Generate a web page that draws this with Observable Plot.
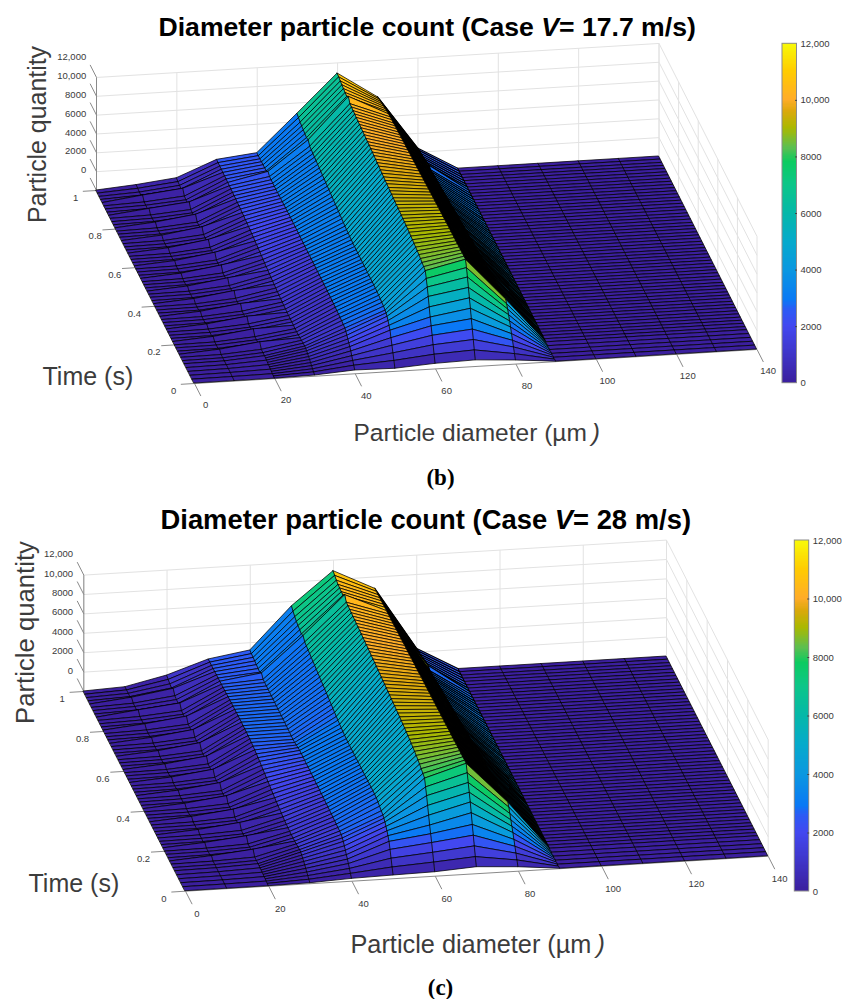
<!DOCTYPE html>
<html>
<head>
<meta charset="utf-8">
<script src="https://cdn.jsdelivr.net/npm/d3@7"></script>
<script src="https://cdn.jsdelivr.net/npm/@observablehq/plot@0.6"></script>
<style>
html,body{margin:0;padding:0;background:#fff}
svg{display:block}
</style>
</head>
<body>
<div id="chart"></div>
<script>
// ---------- axes of the surface ----------
const diameters = [0,10,20,30,40,50,60,70,80,90,100,110,120,130,140];
const times = [0,.01,.02,.03,.04,.05,.06,.07,.08,.09,.1,
 .116,.133,.149,.165,.182,.198,.215,.231,.247,.264,.28,.296,.313,.329,.345,.362,.378,.395,.411,.427,.444,.46,.476,.493,
 .509,.525,.542,.558,.575,.591,.607,.624,.64,.656,.673,.689,.705,.722,.738,.755,.771,.787,.804,.82,.836,.853,.869,.885,
 .902,.918,.935,.951,.967,.984,1];
const diameterTicks = [0,20,40,60,80,100,120,140];
const timeTicks = [0,.2,.4,.6,.8,1];
const quantityTicks = [0,2000,4000,6000,8000,10000,12000];
const quantityLabels = ["0","2000","4000","6000","8000","10,000","12,000"];

// ---------- particle counts per diameter bin, one value per time row ----------
const flatColumn = [0,0,0,0,0,0,0,0,0,0,0,0,0,0,0,0,0,0,0,0,0,0,0,0,0,0,0,0,0,0,0,0,0,0,0,0,0,0,0,0,0,0,0,0,0,0,0,0,0,0,0,0,0,0,0,0,0,0,0,0,0,0,0,0,0,0];

// Case V = 17.7 m/s
const b10 = [0,10,20,30,40,40,50,50,50,40,40,
 40,40,280,40,40,40,280,40,50,50,280,50,50,50,290,50,50,50,290,50,60,60,290,60,60,60,300,60,60,60,300,60,60,60,310,70,70,70,320,80,80,80,360,90,100,100,480,120,130,150,540,200,200,250,320];
const b20 = [0,30,60,100,130,170,200,240,270,300,330,
 330,330,810,340,340,340,830,350,350,350,840,360,360,370,860,370,380,380,880,390,390,400,900,400,410,410,910,420,420,430,930,430,430,440,940,440,440,440,950,440,430,430,930,420,410,420,910,430,450,520,1000,600,650,700,790];
const b30 = [75,200,320,450,570,690,800,900,1000,1060,1100,
 1070,1030,980,950,930,940,950,960,970,980,990,1010,1040,1070,1100,1130,1170,1210,1250,1290,1330,1380,1430,1480,1530,1590,1650,1700,1760,1810,1860,1910,1960,2010,2050,2090,2120,2160,2190,2220,2250,2270,2290,2310,2330,2350,2360,2380,2400,2410,2420,2430,2440,2460,2480];
const b40 = [350,650,950,1250,1550,1800,2000,2200,2400,2600,2750,
 2800,2850,2880,2900,2920,2950,2960,2980,3000,3000,3010,3020,3030,3030,3040,3040,3050,3050,3060,3060,3060,3070,3070,3060,3060,3070,3080,3090,3100,3100,3110,3110,3110,3110,3110,3100,3100,3090,3090,3080,3070,3060,3050,3040,3050,3060,3080,3300,3000,2990,2980,2970,2950,2940,2930];
const b50 = [276,900,1500,2100,2700,3290,3600,3900,4150,4300,4400,
 4480,4540,4590,4640,4670,4700,4700,4710,4710,4720,4720,4730,4730,4740,4740,4750,4750,4760,4770,4780,4800,4830,4860,4880,4930,4980,5030,5080,5140,5190,5240,5290,5340,5390,5440,5480,5530,5580,5630,5680,5730,5780,5830,5880,5930,5990,6040,6400,6280,6350,6430,6500,6590,6720,6860];
const b60 = [540,1300,2100,2900,3700,4430,5300,6200,7000,7700,8330,
 8430,8520,8610,8700,8760,8820,8880,8930,8990,9040,9080,9120,9150,9180,9210,9240,9270,9300,9330,9360,9400,9430,9460,9500,9530,9570,9610,9650,9690,9730,9770,9810,9850,9890,9920,9950,9980,10000,10040,10070,10100,10130,10170,10200,10230,10270,10300,10750,10400,10480,10550,10620,10700,10790,10870];
const b70 = [650,1500,2400,3300,4200,5100,6000,6900,7800,8600,9280,
 9270,9260,9250,9240,9230,9220,9210,9200,9190,9180,9170,9160,9150,9140,9130,9120,9100,9090,9080,9060,9050,9030,9020,9000,8990,8970,8960,8940,8930,8910,8900,8880,8870,8850,8840,8820,8810,8790,8770,8760,8740,8720,8700,8690,8670,8660,8640,8630,8570,8500,8420,8350,8270,8190,8100];
const b80 = [380,850,1350,1850,2350,2850,3300,3750,4150,4500,4800,
 4760,4710,4670,4630,4590,4540,4500,4460,4410,4370,4330,4290,4240,4200,4160,4110,4070,4030,3990,3940,3900,3860,3810,3770,3730,3680,3640,3600,3560,3510,3470,3430,3380,3340,3300,3260,3210,3170,3130,3080,3040,3000,2950,2910,2870,2830,2780,2950,2660,2620,2580,2540,2500,2450,2400];

// Case V = 28 m/s
const c10 = [0,10,20,30,30,40,40,50,50,50,50,
 50,50,290,50,50,50,290,50,50,60,290,60,60,60,300,60,60,60,300,60,60,70,310,70,70,70,310,70,70,70,320,70,70,80,330,80,80,90,360,100,100,110,400,120,130,140,500,150,160,170,440,170,180,180,190];
const c20 = [0,30,60,90,110,130,150,170,190,200,210,
 210,210,700,220,220,230,730,240,250,260,760,270,280,290,790,300,310,320,820,330,330,340,830,350,350,360,850,370,370,380,870,390,390,400,890,410,410,420,910,430,430,440,930,450,460,480,950,560,620,680,1100,800,900,1010,1130];
const c30 = [50,200,370,530,700,850,1000,1130,1250,1350,1400,
 1350,1310,1270,1250,1260,1270,1290,1310,1350,1400,1450,1500,1560,1630,1700,1770,1850,1930,2010,2090,2170,2250,2330,2400,2460,2520,2580,2630,2670,2700,2710,2720,2730,2730,2740,2740,2740,2730,2720,2710,2700,2680,2670,2650,2640,2620,2610,2600,2580,2570,2560,2550,2540,2530,2530];
const c40 = [240,550,850,1150,1400,1650,1900,2150,2400,2550,2700,
 2720,2740,2760,2780,2800,2810,2830,2840,2850,2860,2870,2880,2890,2900,2900,2910,2920,2920,2930,2930,2930,2940,2940,2950,2950,2900,2820,2760,2720,2740,2770,2780,2790,2800,2810,2810,2820,2820,2830,2830,2840,2840,2850,2850,2860,2860,2870,3200,2920,2970,3020,3070,3110,3150,3200];
const c50 = [330,950,1650,2350,2970,3350,3650,3900,4150,4320,4450,
 4560,4680,4790,4900,4920,4930,4930,4930,4920,4920,4910,4910,4910,4900,4900,4890,4890,4880,4880,4880,4880,4900,4920,4960,5000,5060,5120,5180,5250,5320,5390,5460,5530,5600,5660,5730,5790,5860,5930,5990,6060,6130,6190,6260,6320,6390,6460,6800,6600,6700,6800,6900,7050,7270,7500];
const c60 = [410,1200,2000,2800,3500,4190,5000,5800,6600,7300,8000,
 8150,8300,8430,8550,8650,8740,8820,8890,8960,9020,9080,9130,9180,9230,9270,9310,9350,9390,9420,9460,9490,9530,9560,9600,9630,9670,9700,9740,9770,9810,9840,9870,9910,9940,9970,10000,10030,10060,10090,10110,10140,10170,10190,10220,10250,10280,10300,10750,10350,10380,10410,10450,10550,10700,10860];
const c70 = [670,1500,2400,3300,4200,5200,6100,6900,7700,8500,9270,
 9260,9250,9240,9230,9220,9210,9200,9190,9190,9180,9170,9160,9150,9140,9130,9130,9120,9110,9100,9090,9080,9070,9060,9060,9050,9040,9030,9020,9010,9000,9000,8990,8980,8970,8960,8950,8950,8940,8930,8920,8910,8900,8890,8880,8870,8870,8860,8850,8850,8840,8830,8820,8810,8800,8780];
const c80 = [410,900,1400,1900,2400,2900,3350,3800,4250,4700,5020,
 4970,4920,4870,4820,4780,4730,4680,4630,4580,4530,4480,4430,4390,4340,4290,4240,4190,4140,4090,4050,4000,3950,3900,3850,3800,3750,3700,3660,3610,3560,3510,3460,3410,3360,3320,3270,3220,3170,3120,3070,3020,2980,2930,2880,2830,2780,2730,2950,2640,2590,2540,2490,2440,2390,2340];

// ---------- colormap ----------
const colorStops = [0,1000,2000,2600,2900,4000,5000,6000,7000,7800,8300,9000,9600,10000,11000,12000];
const colorValues = ["#3b1f9e","#3f35c8","#4248f0","#2a5cf5","#0a78f5","#0a98e0","#05aacb","#05b8a8","#0cc688","#0ccb60","#5cbf50","#aab800","#dda80c","#ffac28","#ffcc00","#f8fb08"];

// ---------- panels: oblique view parameters and page layout ----------
const panels = [
 { height: 500, top: 0,
   columns: [flatColumn,b10,b20,b30,b40,b50,b60,b70,b80,flatColumn,flatColumn,flatColumn,flatColumn,flatColumn,flatColumn],
   origin:[194,383], dAxis:[4.018,-.243], tAxis:[-98,-193], zScale:.00942,
   bar:{x1:782,x2:796.5,y0:382.7,y12:43.3},
   title:"Diameter particle count (Case V= 17.7 m/s)", titleSize:26.6, titleAt:[158,35],
   qLabelAt:[38,134], qLabelSize:24.9, tLabelAt:[42,376], dLabelAt:[353,433], dLabelSize:24.5, letter:"(b)", letterAt:[440,477] },
 { height: 499, top: 500,
   columns: [flatColumn,c10,c20,c30,c40,c50,c60,c70,c80,flatColumn,flatColumn,flatColumn,flatColumn,flatColumn,flatColumn],
   origin:[185,890.7], dAxis:[4.162,-.25], tAxis:[-101.7,-199.7], zScale:.0097,
   bar:{x1:794.3,x2:808.7,y0:891,y12:540},
   title:"Diameter particle count (Case V= 28 m/s)", titleSize:27.4, titleAt:[160,528],
   qLabelAt:[25,632], qLabelSize:25.7, tLabelAt:[28,883], dLabelAt:[350,944], dLabelSize:25.3, letter:"(c)", letterAt:[440,987] }
];

function drawPanel(p){
  const P = (d,t,z=0) => [
    p.origin[0] + d*p.dAxis[0] + t*p.tAxis[0],
    p.origin[1] + d*p.dAxis[1] + t*p.tAxis[1] - z*p.zScale - p.top
  ];
  const seg = (a,b) => { const A=P(...a),B=P(...b); return {x1:A[0],y1:A[1],x2:B[0],y2:B[1]}; };

  // bands with no early rise have no need of the closely spaced early rows
  const early = c => Math.max(...c.slice(0,11));
  const calm = j => early(p.columns[j]) <= 350 && early(p.columns[j+1]) <= 350;
  // the far side of the ridge is seen nearly edge-on, so its mesh closes up
  const meshWidth = (i,j) => i < 10 ? .75 : j === 7 ? 1.5 : j === 8 ? 1.05 : .75;

  // surface quads, painted from the far corner towards the viewer
  const quads = [];
  let q = 0;
  for (let i = times.length-2; i >= 0; i--) {
    for (let j = diameters.length-2; j >= 0; j--) {
      let next = i+1;
      if (i < 10 && calm(j)) { if (i % 2) continue; next = i+2; }
      const v = p.columns[j][i], w = meshWidth(i,j);
      const a0=P(diameters[j],times[i],p.columns[j][i]),   a1=P(diameters[j],times[next],p.columns[j][next]);
      const b0=P(diameters[j+1],times[i],p.columns[j+1][i]),b1=P(diameters[j+1],times[next],p.columns[j+1][next]);
      quads.push({q,v,w,x1:a0[0],y1:a0[1],x2:a1[0],y2:a1[1]});
      quads.push({q,v,w,x1:b0[0],y1:b0[1],x2:b1[0],y2:b1[1]});
      q++;
    }
  }

  // wall grid
  const grid = [];
  for (const z of quantityTicks) {
    grid.push(seg([0,1,z],[140,1,z]));
    grid.push(seg([140,1,z],[140,0,z]));
  }
  for (const d of diameterTicks) grid.push(seg([d,1,0],[d,1,12000]));
  for (const t of timeTicks) grid.push(seg([140,t,0],[140,t,12000]));

  // axis lines and ticks
  const axis = [seg([0,1,0],[0,1,12000]), seg([0,0,0],[140,0,0]), seg([0,0,0],[0,1,0])];
  for (const z of quantityTicks) axis.push(seg([0,1,z],[0,1.065,z]));
  for (const d of diameterTicks) axis.push(seg([d,0,0],[d,-.065,0]));
  for (const t of timeTicks) axis.push(seg([0,t,0],[-3.4,t,0]));

  const qLab = quantityTicks.map((z,i)=>{const a=P(0,1.105,z);return {x:a[0],y:a[1],s:quantityLabels[i]};});
  const dLab = diameterTicks.map(d=>{const a=P(d,-.113,0);return {x:a[0],y:a[1],s:String(d)};});
  const tLab = timeTicks.map(t=>{const a=P(-5.2,t,0);return {x:a[0],y:a[1]+6,s:String(t)};});

  // colour bar
  const bar = p.bar;
  const barY = v => (bar.y0 + (bar.y12-bar.y0)*v/12000) - p.top;
  const ramp = d3.range(0,12000,40).map(v=>({v,y1:barY(v),y2:barY(v+40)}));
  const barLab = quantityTicks.map((z,i)=>({x:bar.x2+3.5,y:barY(z),s:quantityLabels[i]}));
  const barTicks = quantityTicks.slice(1,-1).map(z=>({x1:bar.x2-2,x2:bar.x2,y:barY(z)}));

  const T = (at) => ({x:at[0],y:at[1]-p.top});
  const svg = Plot.plot({
    width:844, height:p.height,
    margin:0,
    x:{domain:[0,844],range:[0,844],axis:null},
    y:{domain:[0,p.height],range:[0,p.height],axis:null},
    color:{type:"linear",domain:colorStops,range:colorValues,interpolate:"rgb",clamp:true},
    style:{background:"#fff",fontFamily:"'Liberation Sans',Arial,sans-serif"},
    marks:[
      Plot.link(grid,{x1:"x1",y1:"y1",x2:"x2",y2:"y2",stroke:"#e2e2e2",strokeWidth:1}),
      Plot.link(axis,{x1:"x1",y1:"y1",x2:"x2",y2:"y2",stroke:"#8a8a8a",strokeWidth:1}),
      Plot.area(quads,{x1:"x1",y1:"y1",x2:"x2",y2:"y2",z:"q",fill:"v",stroke:"#000",strokeWidth:"w"}),
      Plot.text(qLab,{x:"x",y:"y",text:"s",textAnchor:"end",fontSize:9.5,fill:"#3a3a3a"}),
      Plot.text(dLab,{x:"x",y:"y",text:"s",fontSize:9.5,fill:"#3a3a3a"}),
      Plot.text(tLab,{x:"x",y:"y",text:"s",fontSize:9.5,fill:"#3a3a3a"}),
      Plot.rect(ramp,{x1:bar.x1,x2:bar.x2,y1:"y1",y2:"y2",fill:"v",shapeRendering:"crispEdges"}),
      Plot.rect([0],{x1:bar.x1,x2:bar.x2,y1:barY(0),y2:barY(12000),stroke:"#8c8c8c",fill:"none",strokeWidth:1}),
      Plot.link(barTicks,{x1:"x1",x2:"x2",y1:"y",y2:"y",stroke:"#444",strokeWidth:1}),
      Plot.text(barLab,{x:"x",y:"y",text:"s",textAnchor:"start",fontSize:9.5,fill:"#3a3a3a"}),
      Plot.text([p.title],{...T(p.titleAt),text:d=>d,textAnchor:"start",lineAnchor:"bottom",fontSize:p.titleSize,fontWeight:"bold",fill:"#000"}),
      Plot.text(["Particle quantity"],{...T(p.qLabelAt),text:d=>d,rotate:-90,fontSize:p.qLabelSize,fill:"#3c3c3c"}),
      Plot.text(["Time (s)"],{...T(p.tLabelAt),text:d=>d,textAnchor:"start",fontSize:25,fill:"#3c3c3c"}),
      Plot.text(["Particle diameter (µm\u2009)"],{...T(p.dLabelAt),text:d=>d,textAnchor:"start",fontSize:p.dLabelSize,fill:"#3c3c3c"}),
      Plot.text([p.letter],{...T(p.letterAt),text:d=>d,fontSize:23,fontWeight:"bold",fontFamily:"'Liberation Serif',serif",fill:"#000"})
    ]
  });

  // italic parts of the title and the diameter label, as the reference sets them
  const setParts = (t,parts) => {
    const tgt = t.querySelector("tspan") || t;
    tgt.textContent = "";
    for (const [txt,it] of parts) {
      const sp = document.createElementNS("http://www.w3.org/2000/svg","tspan");
      sp.textContent = txt;
      if (it) sp.setAttribute("font-style","italic");
      tgt.appendChild(sp);
    }
  };
  svg.querySelectorAll("text").forEach(t=>{
    const s = t.textContent;
    if (s.startsWith("Diameter particle")) {
      const [head,tail] = s.split("V=");
      setParts(t,[[head,false],["V",true],["="+tail,false]]);
    } else if (s.startsWith("Particle diameter")) {
      setParts(t,[[s.slice(0,-1),false],[")",true]]);
    }
  });
  return svg;
}

const host = document.getElementById("chart");
for (const p of panels) host.appendChild(drawPanel(p));
</script>
</body>
</html>
